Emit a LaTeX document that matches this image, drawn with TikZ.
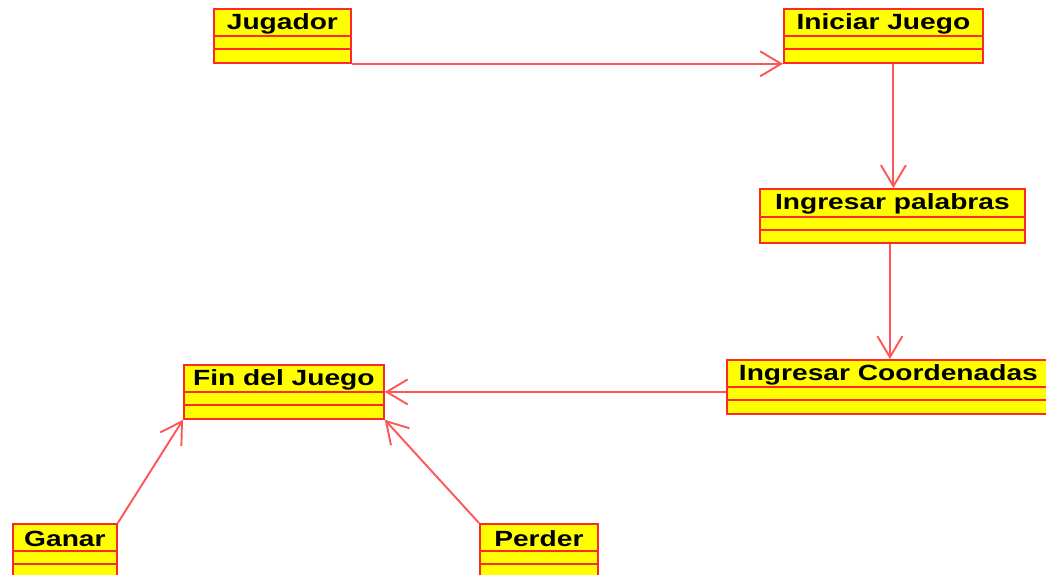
\documentclass[tikz,border=0pt]{standalone}
\usepackage{fontspec}
\setmainfont{Liberation Sans}
\usetikzlibrary{arrows.meta,calc}
\definecolor{clsred}{RGB}{255,40,40}
\definecolor{linered}{RGB}{255,85,85}
\definecolor{clsfill}{RGB}{255,255,0}
\tikzset{
  clsbox/.style={draw=clsred, fill=clsfill, line width=1.8pt, inner sep=0pt, anchor=north west},
  divline/.style={draw=clsred, line width=1.6pt},
  clstext/.style={inner sep=0pt, font=\fontsize{22}{22}\selectfont\bfseries, anchor=center},
  assoc/.style={draw=linered, line width=1.9pt, -{Straight Barb[length=21pt,width=25pt,line width=1.9pt]}},
}
\newcommand{\umlclass}[6]{%
  % #1 name, #2 x1, #3 y1, #4 width, #5 text, #6 first row height
  \node[clsbox, minimum width=#4, minimum height=54] (#1) at (#2,-#3) {};
  \draw[divline] ([yshift=-#6]#1.north west) -- ([yshift=-#6]#1.north east);
  \draw[divline] ([yshift=-#6-13]#1.north west) -- ([yshift=-#6-13]#1.north east);
  \node[clstext] (#1t) at ([yshift=-#6/2-1.5]#1.north) {\scalebox{1.28}[1]{#5}};
}
\begin{document}
\begin{tikzpicture}[x=1pt,y=1pt]
\clip (0,0) rectangle (1046,-575);
\fill[white] (0,0) rectangle (1046,-575);
\umlclass{jug}{213}{8}{137}{Jugador}{28}
\umlclass{ini}{783}{8}{199}{Iniciar Juego}{28}
\umlclass{pal}{759}{188}{265}{Ingresar palabras}{29}
\umlclass{coo}{726}{359}{323}{Ingresar Coordenadas}{28}
\umlclass{fin}{183}{364}{200}{Fin del Juego}{28}
\umlclass{gan}{12}{523}{104}{Ganar}{28}
\umlclass{per}{479}{523}{118}{Perder}{28}
\draw[assoc] (jug.south east) -- (ini.south west);
\draw[assoc] ([xshift=1]ini.south -| pal.north) -- ([xshift=1]pal.north);
\draw[assoc] ([xshift=-2.5]pal.south) -- ([xshift=-2.5]pal.south |- coo.north);
\draw[assoc] (coo.west |- fin.east) -- (fin.east);
\draw[assoc] (gan.north east) -- (fin.south west);
\draw[assoc] (per.north west) -- (fin.south east);
\end{tikzpicture}
\end{document}
